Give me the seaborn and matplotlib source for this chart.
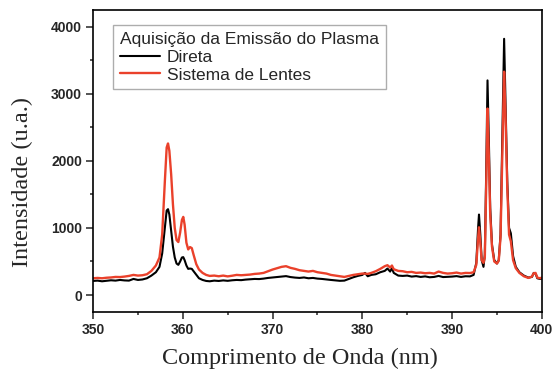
import numpy as np
import pandas as pd
import matplotlib
matplotlib.use('Agg')
import matplotlib.pyplot as plt
from matplotlib.ticker import MultipleLocator
import seaborn as sns

# wavelength (nm) and intensity (u.a.)
wavelength = [350.0, 350.5, 351.0, 351.5, 352.0, 352.5, 353.0, 353.5, 354.0, 354.5,
              355.0, 355.5, 356.0, 356.5, 357.0, 357.4, 357.7, 358.0, 358.2, 358.35,
              358.5, 358.7, 358.9, 359.1, 359.3, 359.5, 359.7, 359.9, 360.05, 360.2,
              360.4, 360.6, 360.8, 361.0, 361.2, 361.5, 361.8, 362.2, 362.6, 363.0,
              363.5, 364.0, 364.5, 365.0, 365.5, 366.0, 366.5, 367.0, 367.5, 368.0,
              368.5, 369.0, 369.5, 370.0, 370.5, 371.0, 371.5, 372.0, 372.5, 373.0,
              373.5, 374.0, 374.5, 375.0, 375.5, 376.0, 376.5, 377.0, 377.5, 378.0,
              378.5, 379.0, 379.5, 380.0, 380.3, 380.6, 381.0, 381.5, 382.0, 382.5,
              382.8, 383.1, 383.3, 383.5, 384.0, 384.5, 385.0, 385.5, 386.0, 386.5,
              387.0, 387.5, 388.0, 388.5, 389.0, 389.5, 390.0, 390.5, 391.0, 391.5,
              392.0, 392.4, 392.7, 392.9, 393.0, 393.15, 393.3, 393.5, 393.65, 393.8,
              393.95, 394.1, 394.25, 394.45, 394.7, 395.0, 395.2, 395.4, 395.6, 395.8,
              395.95, 396.15, 396.35, 396.55, 396.8, 397.1, 397.5, 398.0, 398.5, 398.9,
              399.1, 399.3, 399.5, 399.8, 400.0]

direta = [210, 215, 205, 212, 220, 215, 225, 218, 215, 240,
          225, 232, 250, 290, 340, 420, 620, 1000, 1260, 1280,
          1200, 960, 720, 560, 470, 450, 500, 560, 565, 520,
          440, 390, 395, 390, 355, 300, 250, 225, 210, 205,
          215, 210, 218, 212, 220, 225, 222, 230, 235, 240,
          238, 245, 255, 262, 270, 275, 282, 268, 260, 255,
          262, 250, 255, 245, 240, 232, 225, 218, 212, 215,
          240, 265, 285, 300, 330, 280, 300, 310, 340, 360,
          395, 350, 400, 330, 290, 285, 290, 275, 282, 270,
          278, 265, 270, 285, 268, 272, 275, 282, 270, 280,
          278, 300, 480, 1000, 1200, 900, 520, 420, 600, 1800,
          3200, 2300, 1300, 750, 520, 470, 520, 900, 2400, 3820,
          2900, 1700, 1000, 920, 580, 420, 340, 290, 260, 270,
          330, 320, 250, 240, 245]

lentes = [250, 255, 250, 258, 262, 270, 268, 275, 285, 300,
          290, 295, 310, 360, 440, 560, 900, 1700, 2200, 2260,
          2150, 1800, 1350, 1000, 820, 790, 930, 1120, 1165, 1050,
          780, 680, 715, 700, 600, 460, 380, 330, 300, 285,
          290, 280, 290, 278, 288, 300, 295, 300, 305, 315,
          320, 330, 355, 380, 400, 420, 430, 405, 390, 370,
          360, 350, 360, 340, 330, 320, 300, 290, 280, 270,
          285, 300, 310, 320, 320, 315, 330, 355, 390, 430,
          445, 410, 440, 385, 360, 355, 340, 345, 330, 335,
          325, 330, 320, 350, 330, 320, 325, 335, 320, 330,
          328, 340, 450, 850, 1010, 780, 520, 480, 560, 1600,
          2780, 2050, 1200, 720, 500, 470, 510, 860, 2100, 3330,
          2700, 1600, 900, 800, 520, 400, 330, 280, 255, 275,
          325, 330, 260, 250, 260]

series_names = ['Direta', 'Sistema de Lentes']
legend_title = 'Aquisição da Emissão do Plasma'

sns.set_style('ticks')
plt.rcParams['font.family'] = ['Liberation Sans', 'DejaVu Sans']

fig, ax = plt.subplots(figsize=(5.54, 3.69), dpi=100)
fig.subplots_adjust(left=0.168, right=0.978, bottom=0.155, top=0.973)

df = pd.DataFrame({'wl': wavelength, series_names[0]: direta, series_names[1]: lentes})
sns.lineplot(data=df, x='wl', y=series_names[0], color='black', lw=1.5,
             label=series_names[0], ax=ax, sort=False)
sns.lineplot(data=df, x='wl', y=series_names[1], color='#ea412b', lw=1.7,
             label=series_names[1], ax=ax, sort=False)

ax.set_xlim(350, 400)
ax.set_ylim(-250, 4250)
ax.xaxis.set_major_locator(MultipleLocator(10))
ax.xaxis.set_minor_locator(MultipleLocator(5))
ax.yaxis.set_major_locator(MultipleLocator(1000))
ax.yaxis.set_minor_locator(MultipleLocator(500))
ax.tick_params(which='major', direction='out', length=5, width=1.1, labelsize=10, pad=3)
ax.tick_params(which='minor', direction='out', length=2.5, width=1.1)
for lab in ax.get_xticklabels() + ax.get_yticklabels():
    lab.set_fontweight('bold')
for sp in ax.spines.values():
    sp.set_visible(True)
    sp.set_linewidth(1.2)
    sp.set_color('black')

ax.set_xlabel('Comprimento de Onda (nm)', family='Liberation Serif', fontsize=17.5, labelpad=4)
ax.set_ylabel('Intensidade (u.a.)', family='Liberation Serif', fontsize=17.5, labelpad=13)
ax.xaxis.set_label_coords(0.461, -0.12)
ax.yaxis.label.set_y(0.43)

leg = ax.legend(title=legend_title, loc='upper left', bbox_to_anchor=(0.045, 0.95),
                borderaxespad=0, fontsize=12.5, title_fontsize=12.5, frameon=True,
                fancybox=False, edgecolor='#999999', handlelength=2.3,
                handletextpad=0.4, labelspacing=0.15, borderpad=0.4, alignment='left')
leg.get_frame().set_linewidth(1.0)

fig.savefig('out.png', dpi=100)
